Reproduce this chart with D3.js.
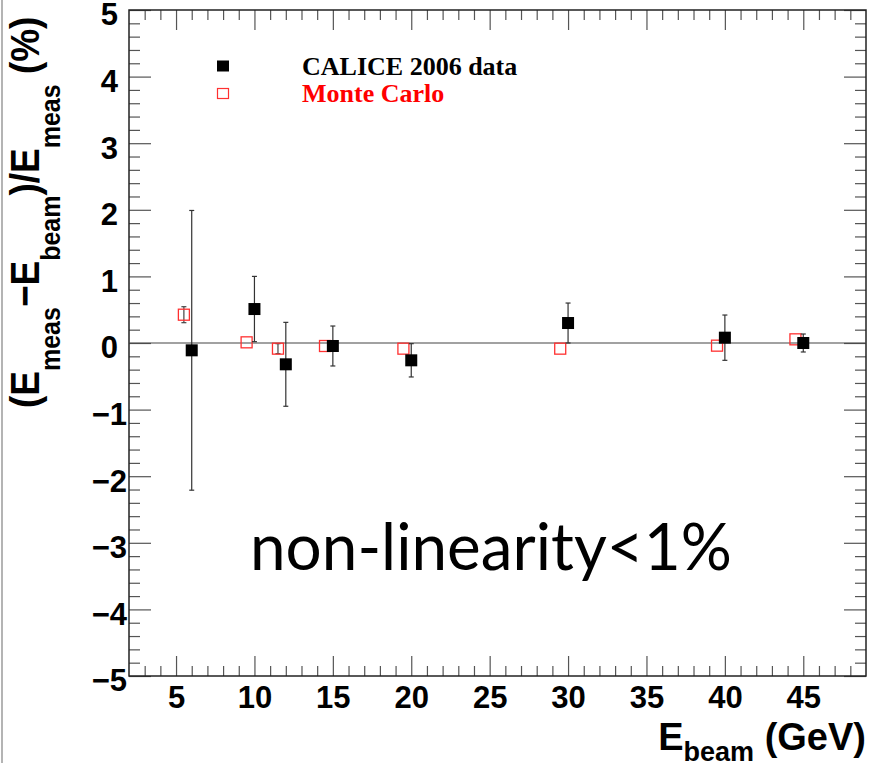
<!DOCTYPE html>
<meta charset="utf-8">
<style>
body {
  margin: 0;
  background: #fff;
}
svg text {
  font-family: "Liberation Sans", Arial, Helvetica, sans-serif;
  font-weight: bold;
}
.tick line {
  stroke: #555;
  stroke-width: 1.2;
}
.axis .domain {
  display: none;
}
</style>
<body>
<script src="https://cdn.jsdelivr.net/npm/d3@7"></script>
<script>

var width = 869,
    height = 763;

// CALICE 2006 data
var dataBeam = [6, 10, 12, 15, 20, 30, 40, 45];
var dataVal  = [-0.11, 0.51, -0.32, -0.045, -0.26, 0.30, 0.08, 0.0];
var dataErr  = [2.1, 0.49, 0.63, 0.30, 0.25, 0.30, 0.34, 0.135];

// Monte Carlo
var mcBeam = [5.5, 9.5, 11.5, 14.5, 19.5, 29.5, 39.5, 44.5];
var mcVal  = [0.425, 0.01, -0.085, -0.045, -0.085, -0.085, -0.04, 0.055];
var mcErr  = [0.12, 0, 0.075, 0, 0, 0, 0, 0];

var xMajor = [5, 10, 15, 20, 25, 30, 35, 40, 45];
var yMajor = [-5, -4, -3, -2, -1, 0, 1, 2, 3, 4, 5];

var legendLabels = ["CALICE 2006 data", "Monte Carlo"];

var xMinor = d3.range(3, 49).filter(function(d) { return d % 5 !== 0; });
var yMinor = d3.range(-50, 51, 2).filter(function(d) { return d % 10 !== 0; })
    .map(function(d) { return d / 10; });

var padL = 129, padR = 866, padT = 10, padB = 676;

var x = d3.scaleLinear().domain([2, 49]).range([padL, padR]);
var y = d3.scaleLinear().domain([-5, 5]).range([padB, padT]);

var svg = d3.select("body").append("svg")
    .attr("width", width)
    .attr("height", height);

// grey edge of the slide on the left
svg.append("line")
    .attr("x1", 2).attr("x2", 2)
    .attr("y1", 0).attr("y2", height)
    .attr("stroke", "#b4b4b4")
    .attr("stroke-width", 2);

// ticks on all four sides
svg.append("g").attr("class", "axis")
    .attr("transform", "translate(0," + padB + ")")
    .call(d3.axisBottom(x).tickValues(xMinor).tickSize(-10).tickFormat(""));
var xAxis = svg.append("g").attr("class", "axis")
    .attr("transform", "translate(0," + padB + ")")
    .call(d3.axisBottom(x).tickValues(xMajor).tickSize(-20).tickPadding(10));
svg.append("g").attr("class", "axis")
    .attr("transform", "translate(0," + padT + ")")
    .call(d3.axisTop(x).tickValues(xMinor).tickSize(-10).tickFormat(""));
svg.append("g").attr("class", "axis")
    .attr("transform", "translate(0," + padT + ")")
    .call(d3.axisTop(x).tickValues(xMajor).tickSize(-20).tickFormat(""));

svg.append("g").attr("class", "axis")
    .attr("transform", "translate(" + padL + ",0)")
    .call(d3.axisLeft(y).tickValues(yMinor).tickSize(-11).tickFormat(""));
var yAxis = svg.append("g").attr("class", "axis")
    .attr("transform", "translate(" + padL + ",0)")
    .call(d3.axisLeft(y).tickValues(yMajor).tickSize(-22).tickPadding(11));
svg.append("g").attr("class", "axis")
    .attr("transform", "translate(" + padR + ",0)")
    .call(d3.axisRight(y).tickValues(yMinor).tickSize(-11).tickFormat(""));
svg.append("g").attr("class", "axis")
    .attr("transform", "translate(" + padR + ",0)")
    .call(d3.axisRight(y).tickValues(yMajor).tickSize(-22).tickFormat(""));

xAxis.selectAll("text")
    .attr("fill", "#000")
    .style("font-size", "31px")
    .style("font-family", "'Liberation Sans', Arial, sans-serif")
    .style("font-weight", "bold");

yAxis.selectAll("text")
    .attr("fill", "#000")
    .attr("x", function(d) { return d < 0 ? -2 : -11; })
    .attr("dy", "0.48em")
    .style("font-size", "31px")
    .style("font-family", "'Liberation Sans', Arial, sans-serif")
    .style("font-weight", "bold");

// frame
svg.append("rect")
    .attr("x", padL).attr("y", padT)
    .attr("width", padR - padL).attr("height", padB - padT)
    .attr("fill", "none")
    .attr("stroke", "#222")
    .attr("stroke-width", 1.5);

// zero line
svg.append("line")
    .attr("x1", padL).attr("x2", padR)
    .attr("y1", y(0)).attr("y2", y(0))
    .attr("stroke", "#444")
    .attr("stroke-width", 1.2);

function errorBars(g, xs, vs, es, color) {
  var idx = d3.range(xs.length).filter(function(i) { return es[i] > 0; });
  g.selectAll("line.bar").data(idx).enter().append("line")
      .attr("class", "bar")
      .attr("x1", function(i) { return x(xs[i]); })
      .attr("x2", function(i) { return x(xs[i]); })
      .attr("y1", function(i) { return y(vs[i] - es[i]); })
      .attr("y2", function(i) { return y(vs[i] + es[i]); })
      .attr("stroke", color).attr("stroke-width", 1.2);
  [-1, 1].forEach(function(s) {
    g.selectAll("line.cap" + (s + 1)).data(idx).enter().append("line")
        .attr("class", "cap" + (s + 1))
        .attr("x1", function(i) { return x(xs[i]) - 2.5; })
        .attr("x2", function(i) { return x(xs[i]) + 2.5; })
        .attr("y1", function(i) { return y(vs[i] + s * es[i]); })
        .attr("y2", function(i) { return y(vs[i] + s * es[i]); })
        .attr("stroke", color).attr("stroke-width", 1.2);
  });
}

// Monte Carlo: open red squares
var mc = svg.append("g");
errorBars(mc, mcBeam, mcVal, mcErr, "#444");
mc.selectAll("rect").data(mcBeam).enter().append("rect")
    .attr("x", function(d) { return x(d) - 5.5; })
    .attr("y", function(d, i) { return y(mcVal[i]) - 5.5; })
    .attr("width", 11).attr("height", 11)
    .attr("fill", "none")
    .attr("stroke", "#ff3030")
    .attr("stroke-width", 1.3);

// data: filled black squares
var dt = svg.append("g");
errorBars(dt, dataBeam, dataVal, dataErr, "#333");
dt.selectAll("rect").data(dataBeam).enter().append("rect")
    .attr("x", function(d) { return x(d) - 6; })
    .attr("y", function(d, i) { return y(dataVal[i]) - 6; })
    .attr("width", 12).attr("height", 12)
    .attr("fill", "#000");

// legend
var legend = svg.append("g");
legend.append("rect")
    .attr("x", 217).attr("y", 60.5).attr("width", 12).attr("height", 11)
    .attr("fill", "#000");
legend.append("rect")
    .attr("x", 217.5).attr("y", 88.5).attr("width", 11).attr("height", 10)
    .attr("fill", "none").attr("stroke", "#ff3030").attr("stroke-width", 1.2);
legend.selectAll("text").data(legendLabels).enter().append("text")
    .attr("x", 302)
    .attr("y", function(d, i) { return 75 + i * 26.5; })
    .attr("fill", function(d, i) { return i === 0 ? "#000" : "#ff0000"; })
    .style("font-family", "'Liberation Serif', 'Times New Roman', serif")
    .style("font-size", "26px")
    .text(function(d) { return d; });

// x title
var xt = svg.append("text")
    .attr("x", 866).attr("y", 750)
    .attr("text-anchor", "end")
    .style("font-size", "38px");
xt.append("tspan").text("E");
xt.append("tspan").attr("dy", 11).style("font-size", "27px").text("beam");
xt.append("tspan").attr("dy", -11).text(" (GeV)");

// y title
var yt = svg.append("text")
    .attr("transform", "translate(39,408) scale(1.12,1) rotate(-90)")
    .attr("x", 0).attr("y", 0)
    .style("font-size", "37px");
yt.append("tspan").text("(E");
yt.append("tspan").attr("dy", 19).style("font-size", "25px").text("meas");
yt.append("tspan").attr("dy", -19).text("\u2212E");
yt.append("tspan").attr("dy", 19).style("font-size", "25px").text("beam");
yt.append("tspan").attr("dy", -19).text(")/E");
yt.append("tspan").attr("dy", 19).style("font-size", "25px").text("meas");
yt.append("tspan").attr("dy", -19).text(" (%)");

// annotation
svg.append("text")
    .attr("x", 250).attr("y", 570)
    .attr("textLength", 482)
    .attr("lengthAdjust", "spacingAndGlyphs")
    .style("font-family", "Lato, 'Open Sans', sans-serif")
    .style("font-weight", "normal")
    .style("font-size", "65px")
    .text("non-linearity<1%");

</script>
